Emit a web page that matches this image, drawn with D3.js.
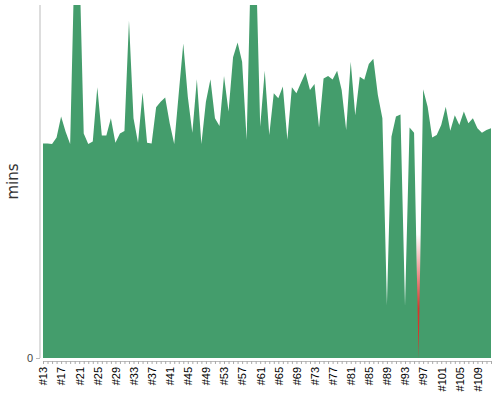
<!DOCTYPE html>
<html><head><meta charset="utf-8">
<script src="https://cdn.jsdelivr.net/npm/d3@7"></script>
<style>body{margin:0;background:#fff}</style>
</head><body><div id="chart"></div>
<script>
var builds = d3.range(13, 113).map(function(n){ return "#" + n; });
var mins = [60.8,60.8,60.6,62.5,68.4,64.1,60.6,115,115,63.6,
	60.6,61.3,76.7,63.0,63.0,67.9,61.0,63.6,64.3,95.6,
	67.9,61.0,75.2,61.0,60.8,71.0,72.6,73.8,66.5,60.6,
	75.0,89.1,74.0,63.8,79.0,60.6,72.6,79.0,67.9,65.7,
	79.9,69.8,85.2,89.4,83.9,61.8,115,115,65.5,81.4,
	63.2,75.0,73.6,76.9,61.8,76.7,75.0,78.0,80.8,75.9,
	77.6,65.3,79.2,79.9,78.9,81.4,75.9,64.6,83.9,68.8,
	79.7,78.8,83.3,84.8,74.5,67.9,15.0,62.7,68.4,69.0,
	14.7,65.3,63.8,0,76.1,71.2,62.5,63.2,66.0,71.2,
	64.4,68.8,66.0,69.8,66.5,67.9,65.1,63.8,64.6,65.1];
var failed = ["#96"];
var labelEvery = 4;

var width = 500, height = 400;
var margin = {top: 5, right: 9, bottom: 42, left: 43};

var svg = d3.select("#chart").append("svg")
	.attr("width", width).attr("height", height)
	.style("font-family", "DejaVu Sans, sans-serif");

var x = d3.scalePoint().domain(builds).range([margin.left, width - margin.right]);
var y = d3.scaleLinear().domain([0, 100]).range([height - margin.bottom, margin.top]);

var defs = svg.append("defs");
defs.append("clipPath").attr("id", "clip").append("rect")
	.attr("x", 0).attr("y", margin.top).attr("width", width).attr("height", height - margin.bottom - margin.top);
var grad = defs.append("linearGradient").attr("id", "redfade")
	.attr("x1", 0).attr("x2", 0).attr("y1", 0).attr("y2", 1);
grad.append("stop").attr("offset", "0%").attr("stop-color", "#d9342b").attr("stop-opacity", 0);
grad.append("stop").attr("offset", "60%").attr("stop-color", "#d9342b").attr("stop-opacity", 1);

var g = svg.append("g").attr("clip-path", "url(#clip)");

// failed builds in red, behind the area
g.selectAll(".fail").data(failed).enter().append("rect")
	.attr("x", function(d){ return x(d) - 2; })
	.attr("width", 4)
	.attr("y", y(35))
	.attr("height", y(0) - y(35))
	.attr("fill", "url(#redfade)");

var area = d3.area()
	.x(function(d, i){ return x(builds[i]); })
	.y0(y(0))
	.y1(function(d){ return y(d); });

g.append("path").datum(mins)
	.attr("d", area)
	.attr("fill", "#449d6c");

// y axis
var ya = svg.append("g").attr("transform", "translate(" + (margin.left - 3) + ",0)")
	.call(d3.axisLeft(y).tickValues([0]).tickSize(4));
ya.select(".domain").attr("stroke", "#bbb").attr("d", "M0," + margin.top + "V" + y(0));
ya.selectAll(".tick line").attr("stroke", "#bbb");
ya.selectAll("text").attr("font-size", 11).attr("fill", "#444");

svg.append("text")
	.attr("transform", "translate(18," + ((margin.top + y(0)) / 2) + ") rotate(-90)")
	.attr("text-anchor", "middle")
	.attr("font-size", 15).attr("fill", "#333")
	.text("mins");

// x axis
var xa = svg.append("g").attr("transform", "translate(0," + (y(0) + 3) + ")")
	.call(d3.axisBottom(x).tickSize(3).tickFormat(function(d, i){ return i % labelEvery == 0 ? d : ""; }));
xa.select(".domain").attr("stroke", "#bbb");
xa.selectAll(".tick line").attr("stroke", "#aaa");
xa.selectAll("text")
	.attr("transform", "rotate(-90)")
	.attr("text-anchor", "end")
	.attr("x", -6).attr("y", 0).attr("dy", "0.35em")
	.attr("font-size", 11).attr("fill", "#000");
</script>
</body></html>
